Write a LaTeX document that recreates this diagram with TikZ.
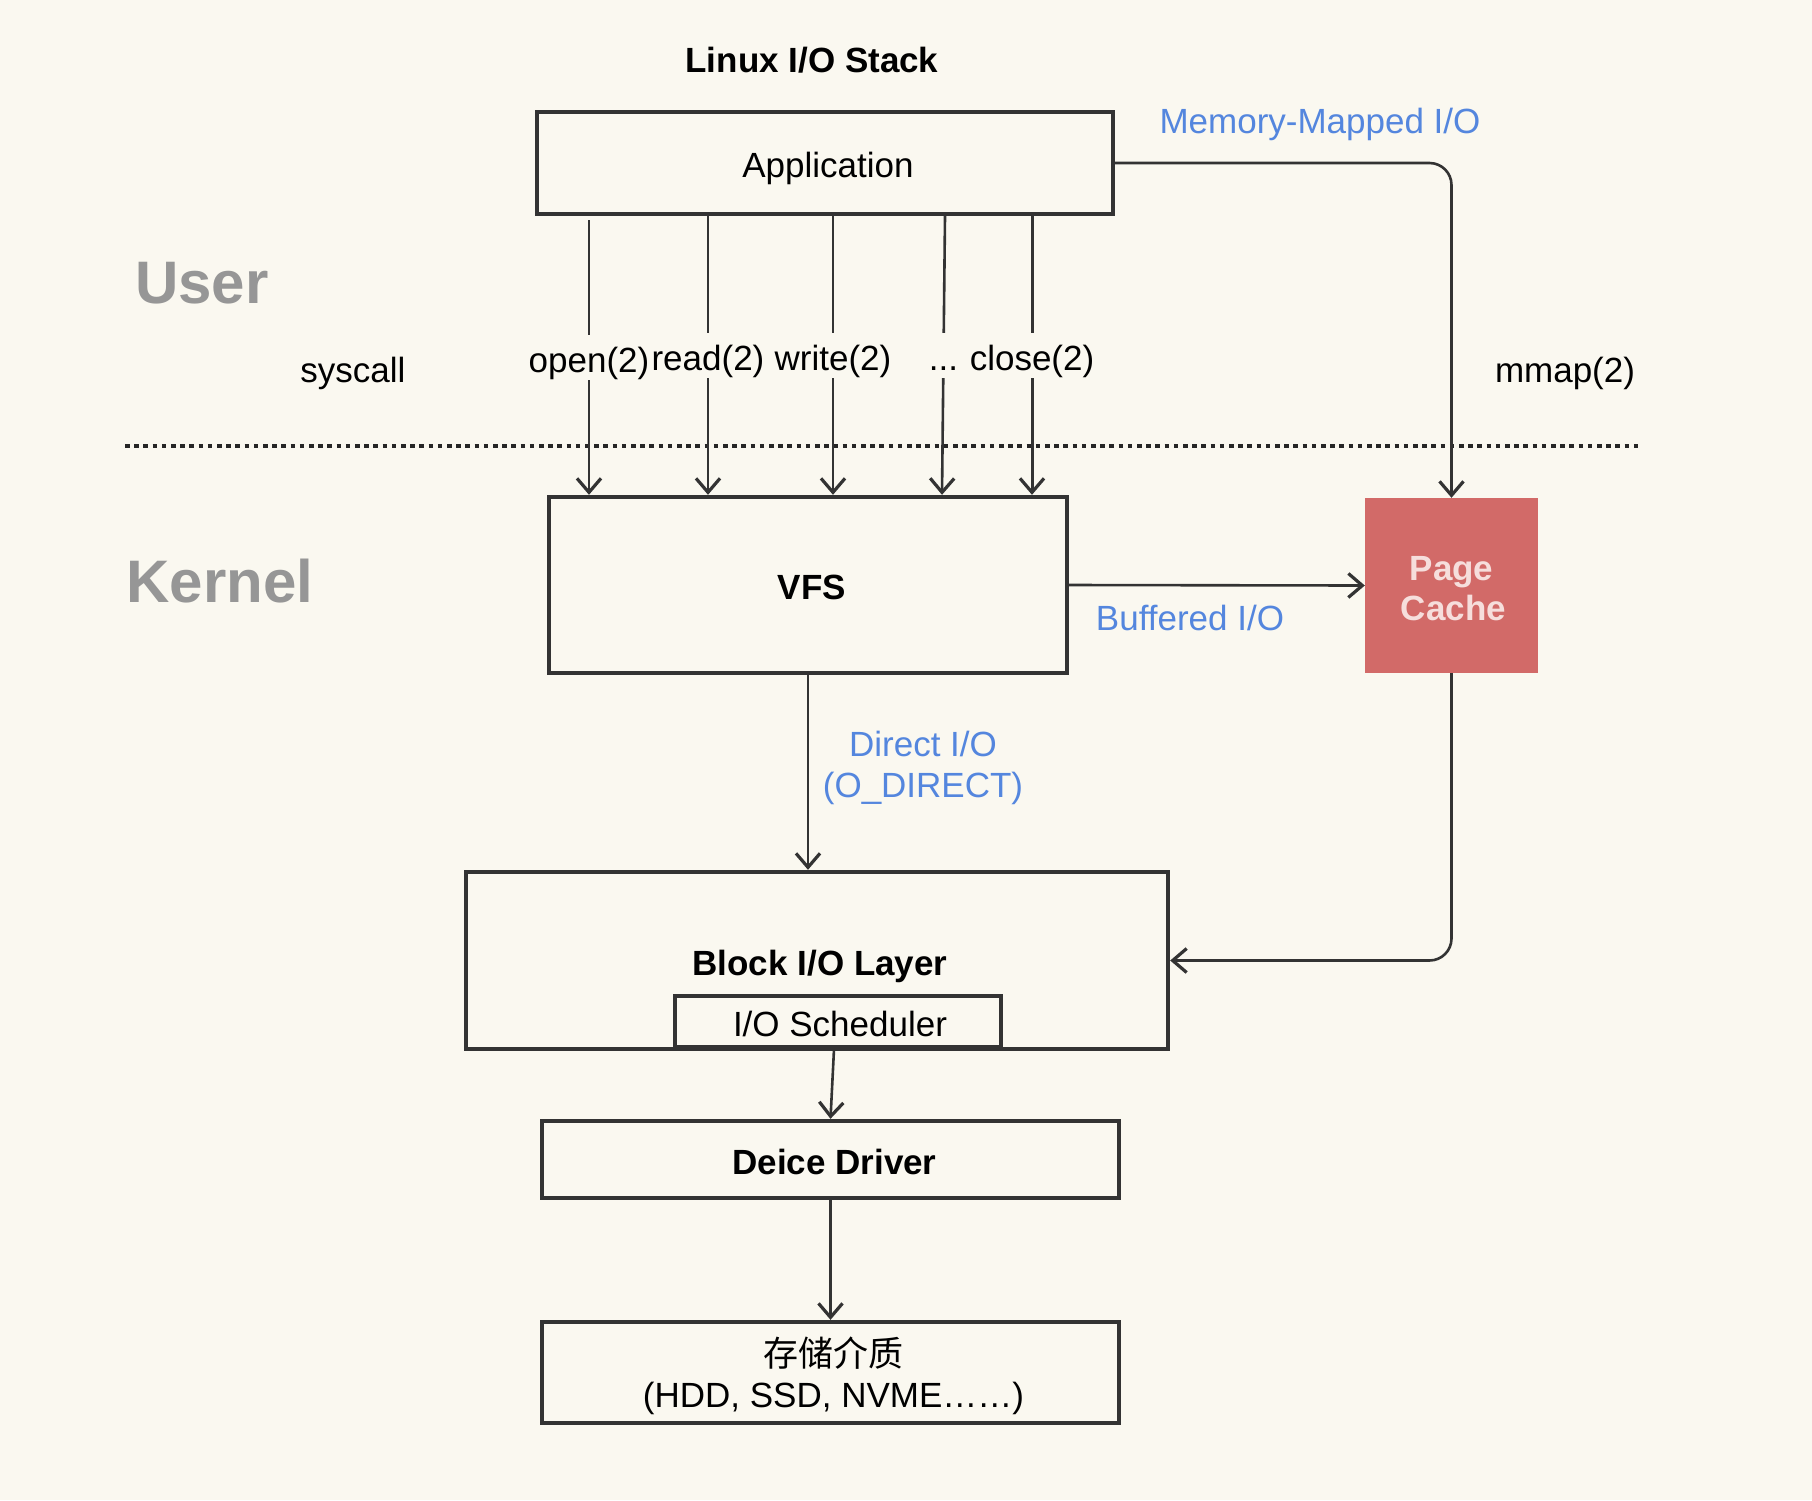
\documentclass[tikz,border=0pt]{standalone}
\usepackage{fontspec}
\setmainfont{Liberation Sans}
\newfontfamily\cjk{Noto Sans CJK SC}
\usetikzlibrary{arrows.meta,calc}
\definecolor{bg}{RGB}{250,248,240}
\definecolor{edge}{RGB}{51,51,51}
\definecolor{linkblue}{RGB}{84,134,222}
\definecolor{pcfill}{RGB}{210,106,104}
\definecolor{pctext}{RGB}{246,222,220}
\definecolor{zone}{RGB}{150,150,150}
\begin{document}
\begin{tikzpicture}[x=1pt,y=-1pt,
  font=\fontsize{35}{41}\selectfont,
  tx/.style={text height=34pt, text depth=5pt},
  box/.style={draw=edge, line width=4.4pt, align=center, inner sep=0pt},
  arr/.style={draw=edge, line width=2.6pt, -{Straight Barb[length=14pt,width=24pt,line width=3.2pt]}},
  lbl/.style={fill=bg, inner sep=3pt, tx},
  bluetxt/.style={text=linkblue, align=center, inner sep=0pt},
  zonetxt/.style={text=zone, font=\fontsize{60}{70}\selectfont\bfseries, inner sep=0pt},
  dotline/.style={draw=black!85, line width=4.5pt, dash pattern=on 4.5pt off 4.7pt}
]
\useasboundingbox (0,0) rectangle (1812,1500);
\fill[bg] (0,0) rectangle (1812,1500);

% titles and zone labels
\node[font=\fontsize{35}{41}\selectfont\bfseries] (title) at (812,60) {Linux I/O Stack};
\node[zonetxt] (user) at (202,283) {User};
\node[zonetxt] (kernel) at (220,581) {Kernel};
\node[tx] (syscall) at (353,367.5) {syscall};
\node[tx] (mmaplbl) at (1565,367.5) {mmap(2)};
\node[bluetxt, tx] (memmap) at (1320,119) {Memory-Mapped I/O};

% boxes
\node[box, tx, minimum width=576pt, minimum height=102pt] (app) at (825,163) {\hspace*{6pt}Application};
\node[box, tx, minimum width=518pt, minimum height=176pt, font=\fontsize{35}{41}\selectfont\bfseries] (vfs) at (808,585) {\hspace*{8pt}VFS};
\node[fill=pcfill, minimum width=173pt, minimum height=175pt, text=pctext, align=center,
      font=\fontsize{35}{40}\selectfont\bfseries] (pc) at (1451.5,585.5) {\rule{0pt}{31pt}Page\\\hspace*{4pt}Cache};
\node[box, tx, minimum width=702pt, minimum height=177pt, font=\fontsize{35}{41}\selectfont\bfseries] (blk) at (817,960.5) {\hspace*{6pt}Block I/O Layer};
\node[box, tx, fill=bg, minimum width=326pt, minimum height=51pt] (sch) at (838,1021.5) {\hspace*{4pt}I/O Scheduler};
\node[box, tx, minimum width=577pt, minimum height=77pt, font=\fontsize{35}{41}\selectfont\bfseries] (drv) at (830.5,1159.5) {\hspace*{8pt}Deice Driver};
\node[box, minimum width=577pt, minimum height=101pt] (sto) at (830.5,1372.5) {\rule{0pt}{37pt}\hspace*{6pt}{\cjk 存储介质}\\\hspace*{6pt}(HDD, SSD, NVME……)};

% user/kernel boundary
\coordinate (dl) at (125,446);
\coordinate (dr) at (1641,446);
\draw[dotline] (dl) -- (dr);

% syscalls
\coordinate (c1) at (589,0);
\coordinate (c2) at (708,0);
\coordinate (c3) at (833,0);
\coordinate (c4t) at (945,0);
\coordinate (c4b) at (942,0);
\coordinate (c5) at (1032,0);
\draw[arr] ($(app.south -| c1)+(0,4)$) -- node[lbl] {open(2)} (vfs.north -| c1);
\draw[arr] (app.south -| c2) -- node[lbl] {read(2)} (vfs.north -| c2);
\draw[arr] (app.south -| c3) -- node[lbl] {write(2)} (vfs.north -| c3);
\draw[arr] (app.south -| c4t) -- node[lbl] {...} (vfs.north -| c4b);
\draw[arr, line width=3pt] (app.south -| c5) -- node[lbl] {close(2)} (vfs.north -| c5);

% memory mapped
\draw[arr, rounded corners=22pt] (app.east) -- (pc.north |- app.east) -- (pc.north);

% buffered
\draw[arr] (vfs.east) -- (pc.west);
\node[bluetxt, tx] (buflbl) at (1190,616) {Buffered I/O};

% direct
\draw[arr] (vfs.south) -- (vfs.south |- blk.north);
\node[bluetxt] (dirlbl) at (923,768) {Direct I/O\\(O\_DIRECT)};

% page cache to block layer
\draw[arr, rounded corners=22pt] (pc.south) -- (pc.south |- blk.east) -- (blk.east);

% lower chain
\draw[arr] ([xshift=-4pt]sch.south) -- (drv.north);
\draw[arr] (drv.south) -- (sto.north);
\end{tikzpicture}
\end{document}
